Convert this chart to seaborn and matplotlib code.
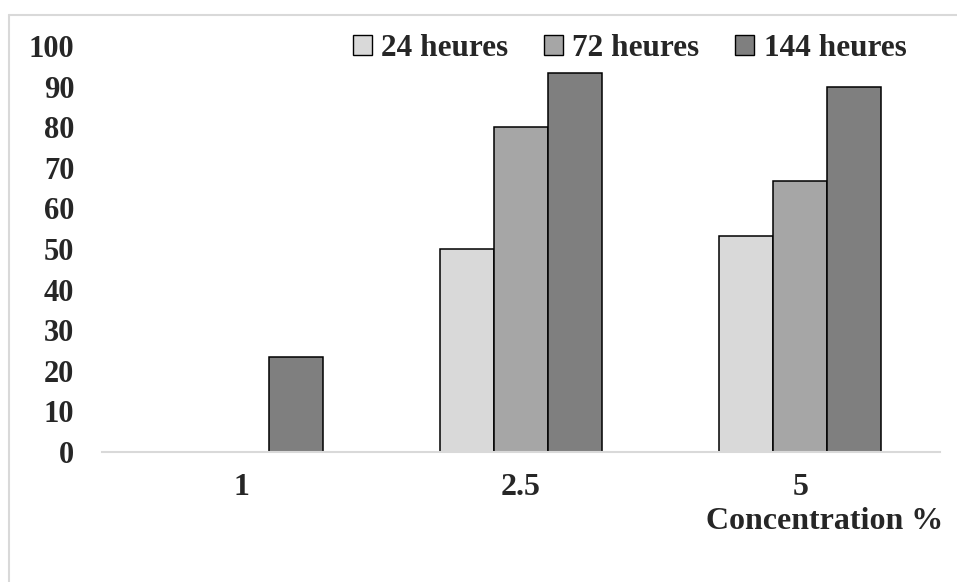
import pandas as pd
import seaborn as sns
import matplotlib
from matplotlib import pyplot as plt
from matplotlib.lines import Line2D

matplotlib.use('Agg')

concentrations = ["1", "2.5", "5"]
durations = ["24 heures", "72 heures", "144 heures"]
vals_24h = [0, 50, 53.3]
vals_72h = [0, 80, 66.7]
vals_144h = [23.3, 93.3, 90]
colors = ["#d9d9d9", "#a6a6a6", "#7f7f7f"]

df = pd.DataFrame({
    "Concentration": concentrations * 3,
    "Durée": [d for d in durations for _ in concentrations],
    "Valeur": vals_24h + vals_72h + vals_144h,
})

sns.set_style("white")
plt.rcParams['font.family'] = ['Liberation Serif', 'DejaVu Serif']
plt.rcParams['font.weight'] = 'bold'

fig = plt.figure(figsize=(9.57, 5.82), dpi=100)
ax = fig.add_axes([0.1066, 0.2234, 0.8754, 0.6976])

sns.barplot(data=df, x="Concentration", y="Valeur", hue="Durée",
            order=concentrations, hue_order=durations, palette=colors,
            width=0.58, edgecolor="black", linewidth=1.1, saturation=1,
            ax=ax)

# pas de contour pour les barres de hauteur nulle
for p in ax.patches:
    if p.get_height() == 0:
        p.set_linewidth(0)

ax.set_ylim(0, 100)
ax.set_yticks(range(0, 101, 10))
ax.set_xlim(-0.5, 2.5)
ax.set_xlabel("")
ax.set_ylabel("")
for s in ["top", "right", "left"]:
    ax.spines[s].set_visible(False)
ax.spines["bottom"].set_color("#d9d9d9")
ax.spines["bottom"].set_linewidth(1.5)
ax.tick_params(axis="y", length=0, pad=20, labelsize=22)
ax.tick_params(axis="x", length=0, pad=15, labelsize=23)
for lab in ax.get_xticklabels() + ax.get_yticklabels():
    lab.set_fontweight("bold")

handles, labels = ax.get_legend_handles_labels()
for h in handles:
    h.set_edgecolor("black")
    h.set_linewidth(1.0)
ax.legend(handles, labels, ncol=3, frameon=False, loc="center",
          bbox_to_anchor=(0.658, 0.917), bbox_transform=fig.transFigure,
          handlelength=0.6, handleheight=0.6, handletextpad=0.3,
          columnspacing=1.15, prop={"size": 22.5, "weight": "bold"})

fig.text(943 / 957, 1 - 529 / 582, "Concentration %", ha="right", va="baseline",
         fontsize=23, fontweight="bold")

# cadre gris clair (haut et gauche visibles)
fig.add_artist(Line2D([9 / 957, 1.0], [1 - 15 / 582] * 2, color="#d9d9d9", lw=1.5))
fig.add_artist(Line2D([9 / 957] * 2, [0.0, 1 - 15 / 582], color="#d9d9d9", lw=1.5))

fig.savefig("out.png", dpi=100)
